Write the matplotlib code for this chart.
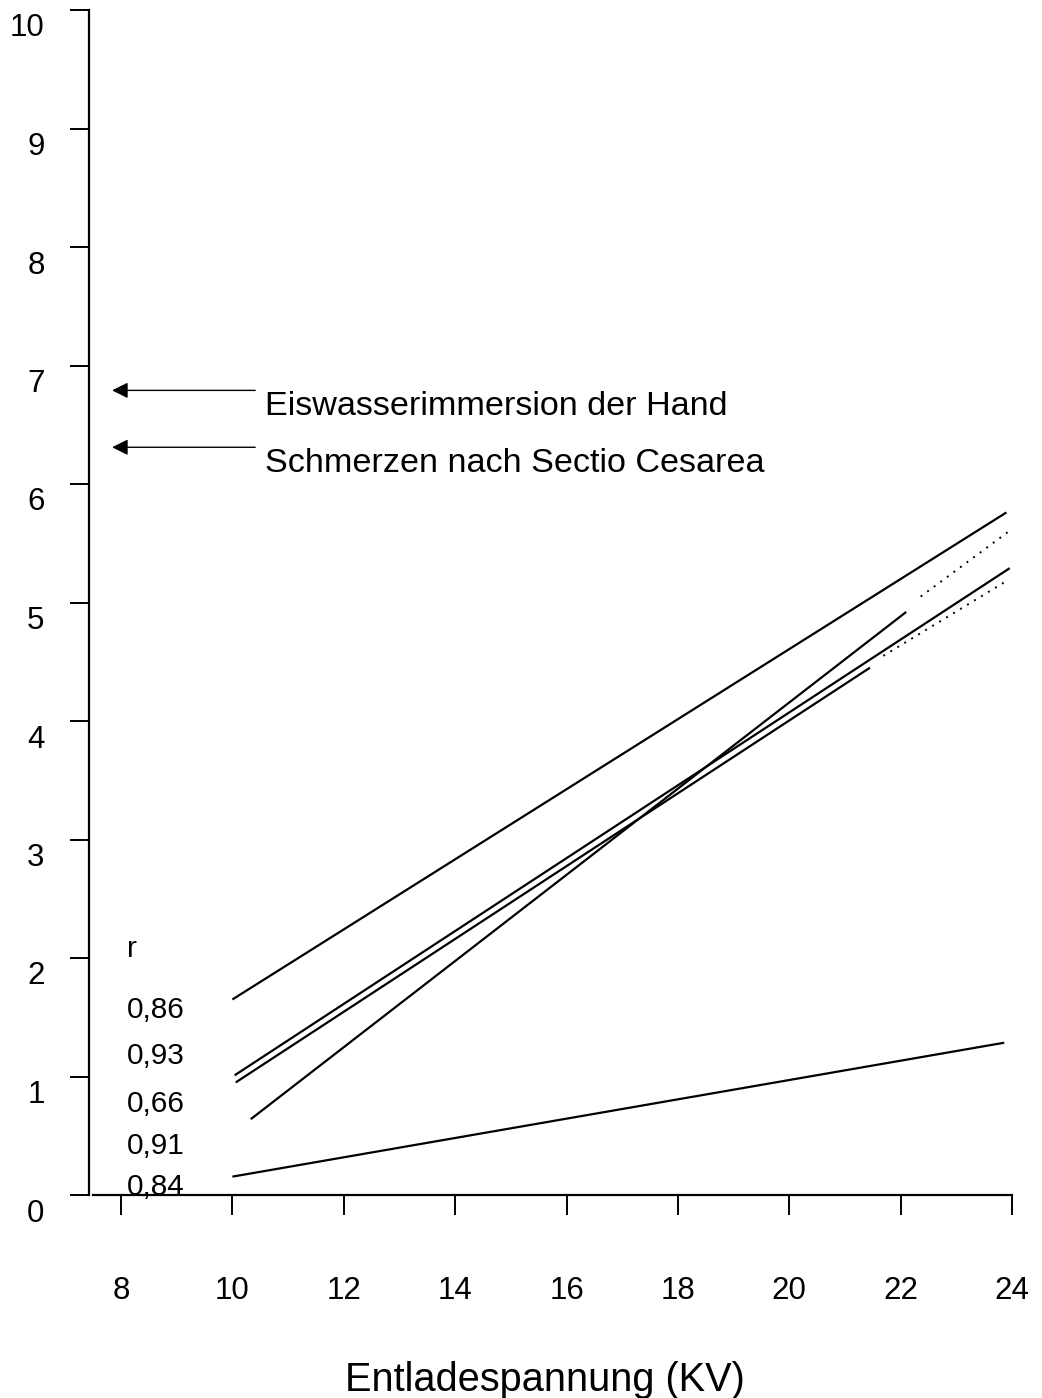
import matplotlib
matplotlib.use("Agg")
import matplotlib.pyplot as plt
import matplotlib.transforms as mtransforms

plt.rcParams['font.family'] = ['Liberation Sans', 'DejaVu Sans']

# regression lines (start / end points)
line_x_start = [10.0, 10.04, 10.06, 10.33, 10.0]
line_y_start = [1.65, 1.01, 0.95, 0.64, 0.155]
line_x_end = [23.9, 23.96, 21.45, 22.1, 23.86]
line_y_end = [5.76, 5.29, 4.45, 4.92, 1.285]

# dotted extensions
dot_x = [[22.36, 24.0], [21.69, 23.93]]
dot_y = [[5.05, 5.62], [4.55, 5.19]]

# correlation coefficients column
r_labels = ["r", "0,86", "0,93", "0,66", "0,91", "0,84"]
r_y = [2.08, 1.56, 1.17, 0.77, 0.41, 0.07]

# arrows pointing at the y axis
arrow_y = [6.79, 6.31]
arrow_text_y = [6.65, 6.17]
arrow_texts = ["Eiswasserimmersion der Hand", "Schmerzen nach Sectio Cesarea"]

x_ticks = [8, 10, 12, 14, 16, 18, 20, 22, 24]
y_ticks = [0, 1, 2, 3, 4, 5, 6, 7, 8, 9, 10]

fig = plt.figure(figsize=(10.42, 13.98), dpi=100)
ax = fig.add_axes([89 / 1042, 1 - 1195 / 1398, 923 / 1042, 1185 / 1398])
ax.set_xlim(7.425, 24.0)
ax.set_ylim(0, 10)

for i in range(len(line_x_start)):
    ax.plot([line_x_start[i], line_x_end[i]], [line_y_start[i], line_y_end[i]],
            color='black', lw=1.6, solid_capstyle='butt', clip_on=False)
for i in range(len(dot_x)):
    ax.plot(dot_x[i], dot_y[i], color='black', lw=1.4, linestyle=(0, (1, 3.2)),
            clip_on=False)

for lab, yy in zip(r_labels, r_y):
    ax.text(8.11, yy, lab, fontsize=21.5, va='center', ha='left')

for ay, ty, t in zip(arrow_y, arrow_text_y, arrow_texts):
    ax.annotate('', xy=(7.84, ay), xytext=(10.41, ay),
                arrowprops=dict(arrowstyle='-|>', lw=1.0, color='black',
                                mutation_scale=24, shrinkA=0, shrinkB=0))
    ax.text(10.59, ty, t, fontsize=24.6, va='center', ha='left')

# axes styling
ax.spines['top'].set_visible(False)
ax.spines['right'].set_visible(False)
ax.spines['left'].set_linewidth(1.6)
ax.spines['bottom'].set_linewidth(1.6)
ax.spines['left'].set_bounds(0, 10)
ax.spines['bottom'].set_bounds(7.5, 24)

ax.set_xticks(x_ticks)
ax.set_yticks(y_ticks)
ax.set_xticklabels([str(v) for v in x_ticks])
ax.set_yticklabels([str(v) for v in y_ticks])
ax.tick_params(axis='x', direction='out', length=14.5, width=1.4, pad=44, labelsize=22.5)
ax.tick_params(axis='y', direction='out', length=14, width=1.4, pad=18, labelsize=22.5)

# y tick labels sit a bit below their ticks in the original
offset = mtransforms.ScaledTranslation(0, -0.15, fig.dpi_scale_trans)
for lab in ax.get_yticklabels():
    lab.set_transform(lab.get_transform() + offset)

ax.set_xlabel("Entladespannung (KV)", fontsize=28.6, va='center')
ax.xaxis.set_label_coords((545 - 89) / 923, -(1380 - 1195) / 1185)

fig.savefig("out.png", dpi=100)
